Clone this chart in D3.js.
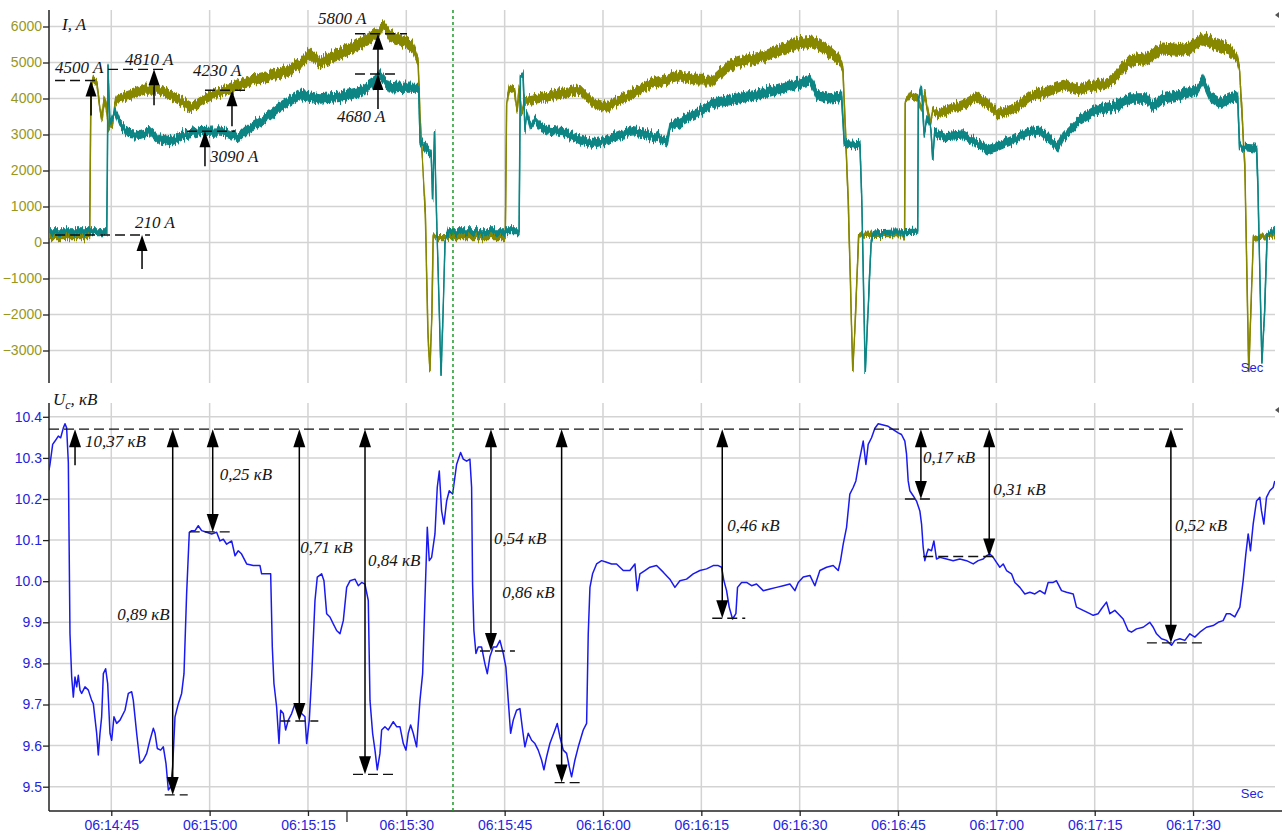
<!DOCTYPE html>
<html><head><meta charset="utf-8">
<script src="https://cdn.jsdelivr.net/npm/d3@7"></script>
<style>
html,body{margin:0;padding:0;background:#fff;}
svg{display:block;}
</style></head><body>
<svg id="chart" width="1282" height="838"></svg>
<script>
// ---- data: time is given in seconds after 06:14:00 ----
const timeTickLabels = ["06:14:45","06:15:00","06:15:15","06:15:30","06:15:45","06:16:00","06:16:15","06:16:30","06:16:45","06:17:00","06:17:15","06:17:30"];
const currentTicks = [-3000,-2000,-1000,0,1000,2000,3000,4000,5000,6000];
const voltageTicks = [9.5,9.6,9.7,9.8,9.9,10.0,10.1,10.2,10.3,10.4];

// current, phase 1 (olive): [s, A, spread of the trace]
const phaseA = [
[35.5,150,70],[41.7,150,70],[41.9,4300,40],[42.3,4500,80],[42.8,4400,80],[43.3,3700,60],[43.6,3400,60],[43.9,4000,60],[44.2,3800,60],[44.6,3200,60],[45.2,3300,60],[45.6,3900,80],[45.9,4000,100],[47.9,4100,120],[50.1,4250,120],[52.4,4240,120],[54.0,4100,120],[56.2,3870,120],[57.3,3750,120],[58.5,3900,120],[60.8,4150,120],[63.1,4260,130],[65.4,4460,130],[67.7,4570,130],[70.7,4680,140],[73.8,4950,140],[75.3,5250,140],[76.8,5000,140],[79.9,5250,150],[82.2,5450,150],[84.5,5680,150],[86.0,5900,150],[86.4,6050,100],[87.5,5750,150],[89.8,5580,150],[90.9,5450,150],[91.8,5050,100],[92.1,3500,0],[92.9,800,0],[93.3,-2500,0],[93.6,-3600,0],[93.9,-2000,0],[94.1,200,40],[94.7,150,70],
[105.1,150,70],[105.3,3800,40],[105.7,4300,80],[106.5,4200,80],[106.9,3700,60],[107.2,4250,80],[107.6,3600,60],[108.1,3950,100],[108.9,3960,120],[111.5,4050,120],[113.9,4140,120],[116.5,4240,120],[118.5,3870,120],[120.6,3770,120],[121.5,3870,120],[123.7,4050,120],[126.7,4375,130],[129.1,4510,130],[131.7,4650,130],[134.3,4510,130],[136.8,4510,130],[139.4,4930,140],[142.0,5070,140],[144.4,5160,140],[147.0,5350,150],[149.6,5530,150],[152.0,5580,150],[154.2,5350,150],[156.1,5070,130],[156.6,4800,80],[157.4,1200,0],[158.1,-3600,0],[158.4,-2500,0],[159.0,200,40],[159.5,220,70],
[166.0,200,70],[166.1,3900,40],[166.8,4100,80],[168.0,4000,80],[168.6,3700,60],[169.1,4100,80],[169.9,3300,50],[170.3,3700,60],[170.9,3590,100],[172.5,3680,120],[174.9,3820,120],[177.0,4050,120],[178.6,3870,120],[180.1,3590,120],[181.0,3590,120],[183.1,3770,120],[185.1,4050,120],[187.7,4190,130],[190.2,4375,130],[192.3,4240,130],[194.3,4330,130],[196.9,4420,130],[198.4,4650,140],[200.4,5070,140],[203.0,5120,150],[205.4,5390,150],[208.0,5350,150],[209.5,5390,150],[211.5,5670,150],[213.0,5530,150],[215.6,5350,150],[216.7,5120,100],[217.1,4800,60],[217.9,2100,0],[218.5,-3600,0],[218.8,-2000,0],[219.2,100,40],[219.9,150,70],[222.5,200,70]
];

// current, phase 2 (teal): [s, A, spread of the trace]
const phaseC = [
[35.5,300,80],[44.3,300,80],[44.4,2000,0],[44.5,4900,40],[44.8,3300,60],[45.2,3500,60],[45.6,3650,80],[46.3,3300,100],[47.6,3030,110],[49.4,3000,110],[50.9,3080,110],[52.4,2850,110],[54.0,2800,110],[56.2,2990,110],[58.5,3080,110],[61.6,3100,110],[63.1,3000,110],[64.6,2930,110],[66.2,3210,110],[68.4,3440,120],[70.7,3770,120],[73.8,4100,130],[76.8,4000,130],[79.9,4050,130],[82.9,4180,130],[85.2,4460,130],[86.0,4700,100],[87.5,4280,130],[89.0,4300,130],[91.9,4300,120],[92.1,2800,60],[92.9,2650,100],[93.8,2450,80],[94.0,1200,0],[94.3,3100,0],[94.5,1500,0],[95.3,-3700,0],[95.6,-2000,0],[95.9,0,0],[96.4,300,80],
[107.2,300,80],[107.4,4600,40],[107.8,4700,40],[108.1,3100,60],[108.4,3600,60],[108.9,3200,60],[109.6,3400,80],[110.4,3210,110],[111.5,3125,110],[113.9,3080,110],[116.5,2850,110],[118.5,2750,110],[120.6,2850,110],[122.6,2990,110],[124.6,3080,110],[126.7,2990,110],[128.7,2900,110],[129.8,2780,100],[130.2,3210,100],[131.7,3360,120],[134.3,3590,120],[136.8,3870,120],[139.4,3960,130],[142.0,4050,130],[144.4,4140,130],[147.0,4280,130],[149.6,4420,130],[151.6,4510,130],[152.6,4100,130],[154.6,4000,130],[156.4,4050,130],[156.8,2750,80],[159.2,2700,100],[159.5,1000,0],[160.0,-3650,0],[160.4,-2000,0],[160.9,0,0],[161.2,250,70],
[168.0,300,70],[168.1,4000,40],[168.6,4300,80],[169.0,3000,60],[169.4,3500,60],[170.0,3200,60],[170.3,2300,0],[170.6,3100,80],[170.9,3030,110],[172.5,2940,110],[174.9,2990,110],[176.4,2850,110],[178.6,2570,110],[180.1,2660,110],[182.5,2850,110],[185.1,3080,110],[186.6,3125,110],[188.2,2850,110],[189.4,2660,110],[190.2,2940,110],[192.7,3400,120],[195.3,3680,130],[197.8,3770,130],[200.4,4000,130],[203.0,4000,130],[203.9,3770,130],[205.4,4000,130],[208.0,4100,130],[210.6,4240,130],[211.5,4510,120],[212.6,4050,130],[214.1,3870,130],[215.6,4000,130],[216.8,4050,130],[217.1,2660,80],[219.7,2600,100],[219.9,1500,0],[220.5,-3360,0],[220.9,-2000,0],[221.3,200,60],[222.5,350,70]
];

// bus voltage: [s, kV]
const voltage = [
[35.5,10.27],[35.65,10.284],[36.06,10.333],[36.42,10.341],[36.92,10.353],[37.28,10.349],[37.69,10.373],[37.94,10.383],[38.19,10.373],[38.45,10.288],[38.70,9.872],[38.96,9.767],[39.21,9.718],[39.46,9.767],[39.72,9.743],[39.97,9.771],[40.23,9.735],[40.48,9.727],[40.99,9.743],[41.50,9.735],[42.01,9.710],[42.26,9.702],[42.77,9.630],[43.02,9.577],[43.28,9.630],[43.53,9.670],[43.79,9.775],[44.14,9.787],[44.45,9.751],[44.80,9.630],[45.06,9.613],[45.41,9.670],[45.82,9.654],[46.33,9.662],[47.09,9.686],[47.60,9.727],[48.11,9.731],[48.36,9.710],[48.87,9.630],[49.38,9.557],[49.89,9.565],[50.40,9.581],[50.90,9.613],[51.41,9.642],[51.67,9.630],[52.02,9.593],[52.53,9.589],[52.94,9.597],[53.34,9.557],[53.70,9.492],[54.06,9.500],[54.36,9.549],[54.72,9.670],[55.23,9.702],[55.73,9.727],[56.09,9.775],[56.49,9.969],[56.90,10.119],[57.26,10.123],[57.77,10.123],[58.27,10.135],[58.78,10.123],[59.55,10.119],[60.31,10.115],[61.07,10.119],[61.58,10.098],[62.09,10.102],[62.60,10.090],[63.36,10.098],[63.87,10.062],[64.37,10.074],[64.88,10.066],[65.65,10.042],[66.66,10.038],[67.68,10.038],[67.93,10.018],[68.70,10.018],[69.31,10.018],[69.56,9.840],[69.81,9.751],[70.22,9.694],[70.58,9.605],[70.83,9.686],[71.24,9.678],[71.59,9.638],[72.00,9.662],[72.51,9.678],[73.02,9.702],[73.52,9.686],[74.03,9.678],[74.54,9.670],[74.80,9.605],[75.20,9.662],[75.56,9.767],[76.07,9.953],[76.42,10.010],[77.08,10.018],[77.44,10.001],[77.85,9.921],[78.35,9.913],[78.86,9.896],[79.37,9.880],[79.88,9.872],[80.39,9.904],[80.90,9.985],[81.41,10.001],[82.17,10.005],[82.68,9.989],[83.19,9.997],[83.69,9.993],[84.20,9.953],[84.46,9.710],[84.86,9.630],[85.22,9.589],[85.57,9.541],[85.98,9.581],[86.24,9.638],[86.74,9.646],[87.25,9.638],[88.01,9.658],[88.52,9.646],[89.03,9.646],[89.54,9.605],[89.95,9.589],[90.30,9.630],[90.66,9.650],[91.06,9.630],[91.57,9.597],[92.08,9.710],[92.49,9.775],[92.84,9.953],[93.20,10.131],[93.50,10.050],[93.86,10.058],[94.37,10.115],[94.72,10.228],[95.03,10.268],[95.38,10.171],[95.74,10.139],[96.15,10.195],[96.55,10.220],[97.06,10.212],[97.67,10.284],[98.28,10.313],[98.69,10.297],[99.20,10.292],[99.70,10.297],[99.96,10.228],[100.11,9.993],[100.31,9.880],[100.62,9.824],[100.97,9.840],[101.48,9.840],[101.99,9.799],[102.35,9.775],[102.75,9.816],[103.26,9.840],[103.77,9.840],[104.28,9.856],[104.79,9.824],[105.19,9.791],[105.55,9.710],[105.91,9.630],[106.31,9.662],[106.82,9.686],[107.33,9.690],[107.74,9.638],[108.09,9.597],[108.60,9.630],[109.11,9.613],[109.62,9.605],[110.12,9.589],[110.63,9.565],[110.99,9.541],[111.40,9.573],[111.90,9.605],[112.67,9.638],[113.02,9.654],[113.43,9.621],[113.94,9.589],[114.45,9.581],[114.85,9.549],[115.21,9.524],[115.72,9.565],[116.23,9.597],[116.99,9.638],[117.50,9.654],[117.75,9.872],[118.01,9.985],[118.41,10.018],[119.02,10.042],[119.79,10.050],[120.55,10.046],[121.31,10.042],[122.07,10.042],[123.09,10.026],[124.10,10.026],[124.87,10.042],[125.22,9.977],[125.63,10.018],[126.39,10.026],[127.15,10.034],[128.17,10.038],[129.19,10.022],[130.20,10.005],[130.97,9.985],[131.73,10.001],[132.75,10.005],[133.76,10.018],[134.78,10.026],[135.80,10.030],[136.81,10.038],[137.58,10.038],[138.09,10.034],[138.44,10.001],[138.85,9.977],[139.25,9.937],[139.76,9.908],[140.27,9.921],[140.52,9.985],[141.14,9.997],[141.90,9.997],[142.66,9.989],[143.42,9.993],[144.44,9.977],[145.46,9.981],[146.47,9.985],[147.49,9.989],[148.51,9.993],[149.27,9.977],[149.78,9.997],[150.54,10.010],[151.56,10.014],[152.32,9.989],[153.08,10.026],[154.10,10.034],[155.11,10.038],[155.88,10.026],[156.23,10.050],[156.64,10.090],[157.15,10.131],[157.65,10.212],[158.16,10.228],[158.57,10.244],[159.08,10.292],[159.69,10.341],[160.10,10.284],[160.45,10.333],[160.96,10.349],[161.47,10.372],[161.98,10.383],[162.74,10.380],[163.50,10.377],[164.26,10.369],[165.03,10.361],[165.53,10.357],[166.04,10.341],[166.30,10.309],[166.55,10.244],[166.81,10.220],[167.31,10.208],[167.82,10.195],[168.33,10.171],[168.59,10.139],[168.84,10.082],[169.09,10.050],[169.35,10.066],[169.60,10.078],[170.11,10.074],[170.47,10.098],[170.87,10.054],[171.38,10.058],[172.40,10.054],[173.41,10.050],[174.43,10.054],[175.45,10.050],[176.47,10.042],[177.23,10.050],[177.99,10.054],[178.50,10.062],[179.01,10.066],[179.52,10.058],[180.02,10.046],[180.53,10.034],[181.04,10.042],[181.55,10.026],[182.31,10.018],[182.82,9.997],[183.58,9.985],[184.34,9.969],[185.11,9.973],[185.87,9.969],[186.63,9.977],[187.40,9.969],[187.90,9.997],[188.67,9.997],[189.17,10.001],[189.94,9.977],[190.70,9.973],[191.72,9.969],[192.22,9.937],[193.24,9.929],[194.26,9.921],[194.77,9.917],[195.53,9.921],[196.04,9.933],[196.80,9.949],[197.31,9.921],[198.07,9.929],[198.58,9.921],[199.34,9.908],[200.10,9.880],[200.61,9.876],[201.38,9.884],[202.39,9.888],[203.41,9.900],[203.92,9.888],[204.43,9.872],[205.19,9.860],[205.95,9.856],[206.72,9.844],[207.22,9.856],[207.99,9.860],[208.75,9.856],[209.51,9.872],[210.27,9.864],[211.04,9.876],[212.05,9.888],[213.07,9.892],[213.83,9.900],[214.59,9.904],[215.10,9.921],[215.61,9.921],[216.37,9.913],[217.14,9.937],[217.64,10.001],[218.05,10.066],[218.41,10.115],[218.76,10.074],[219.17,10.139],[219.68,10.195],[220.19,10.204],[220.44,10.171],[220.80,10.139],[221.20,10.204],[221.71,10.220],[222.22,10.228],[222.47,10.244]
];

// current readings marked on the upper trace
const currentMarkTimes  = [41.91, 51.52, 63.41, 59.29, 49.69, 85.68, 85.68];
const currentMarkValues = [4500, 4810, 4230, 3090, 210, 4680, 5800];
const currentMarkLabels = ["4500 A","4810 A","4230 A","3090 A","210 A","4680 A","5800 A"];

// voltage reference level and the dips measured from it
const voltageRef = 10.37;
const voltageRefLabel = "10,37 кВ";
const voltageRefTime = 39.47;
const voltageRefSpan = [35.5, 208.45];
const voltageDropTimes  = [54.37, 60.47, 73.68, 83.70, 102.91, 113.69, 138.19, 168.49, 178.91, 206.62];
const voltageDrops      = [0.89, 0.25, 0.71, 0.84, 0.54, 0.86, 0.46, 0.17, 0.31, 0.52];
const voltageDropLabels = ["0,89 кВ","0,25 кВ","0,71 кВ","0,84 кВ","0,54 кВ","0,86 кВ","0,46 кВ","0,17 кВ","0,31 кВ","0,52 кВ"];

// cursor positions (s)
const cursorTime = 97.12;
const markerTime = 80.95;

// ---- drawing ----
const svg = d3.select('#chart');
const day0 = new Date(2000,0,1,6,14,0).getTime();
const toTime = s => new Date(day0 + s*1000);
const parseTick = d3.timeParse("%H:%M:%S");
const tickDates = timeTickLabels.map(l => { const p = parseTick(l); return new Date(2000,0,1,p.getHours(),p.getMinutes(),p.getSeconds()); });

const X0 = 49, X1 = 1275;
const topP = {y0: 10, y1: 383};
const botP = {y0: 403, y1: 811};

const x  = d3.scaleTime().domain([toTime(35.5), toTime(222.5)]).range([X0, X1]);
const yI = d3.scaleLinear().domain([-3000, 6000]).range([350.5, 26.5]);
const yU = d3.scaleLinear().domain([9.5, 10.4]).range([786.7, 416.8]);

const GRID = '#d3d3d3';
const OLIVE = '#878700', TEAL = '#0b8585', BLUE = '#1a1af0';
const TICK_FONT = '"Liberation Sans", Arial, sans-serif';
const NOTE_FONT = '"Liberation Serif", "Times New Roman", serif';

const defs = svg.append('defs');
defs.append('clipPath').attr('id','clipTop').append('rect').attr('x',X0).attr('y',topP.y0).attr('width',X1-X0).attr('height',topP.y1-topP.y0);
defs.append('clipPath').attr('id','clipBot').append('rect').attr('x',X0).attr('y',botP.y0).attr('width',X1-X0).attr('height',botP.y1-botP.y0);

// ragged edge texture for the sampled current traces (vertical jitter only)
const jitter = defs.append('filter').attr('id','ragged')
  .attr('filterUnits','userSpaceOnUse').attr('x',0).attr('y',0).attr('width',1282).attr('height',400);
jitter.append('feTurbulence').attr('type','fractalNoise').attr('baseFrequency','0.55 0.02')
  .attr('numOctaves',2).attr('seed',4).attr('result','tex');
jitter.append('feColorMatrix').attr('in','tex').attr('type','matrix')
  .attr('values','1 0 0 0 0  0 0 0 0 0.5  0 0 0 0 0  0 0 0 0 1').attr('result','map');
jitter.append('feDisplacementMap').attr('in','SourceGraphic').attr('in2','map')
  .attr('scale',11).attr('xChannelSelector','G').attr('yChannelSelector','R');

// grids
function vGrid(p){
  svg.append('g').selectAll('line').data(tickDates).join('line')
    .attr('x1',d=>x(d)).attr('x2',d=>x(d)).attr('y1',p.y0).attr('y2',p.y1)
    .attr('stroke',GRID).attr('stroke-width',1.5);
}
vGrid(topP); vGrid(botP);
svg.append('g').selectAll('line').data(currentTicks).join('line')
  .attr('x1',X0).attr('x2',X1).attr('y1',d=>yI(d)).attr('y2',d=>yI(d))
  .attr('stroke',GRID).attr('stroke-width',1.5);
svg.append('g').selectAll('line').data(voltageTicks).join('line')
  .attr('x1',X0).attr('x2',X1).attr('y1',d=>yU(d)).attr('y2',d=>yU(d))
  .attr('stroke',GRID).attr('stroke-width',1.5);

// left axes
const axI = svg.append('g').attr('transform',`translate(${X0},0)`)
  .call(d3.axisLeft(yI).tickValues(currentTicks).tickFormat(d3.format('d')).tickSize(6).tickPadding(1));
const axU = svg.append('g').attr('transform',`translate(${X0},0)`)
  .call(d3.axisLeft(yU).tickValues(voltageTicks).tickFormat(d3.format('.1f')).tickSize(6).tickPadding(1));
[[axI,'#97971f'],[axU,'#2424e0']].forEach(([g,c])=>{
  g.select('.domain').remove();
  g.selectAll('.tick line').attr('stroke','#222').attr('stroke-width',1.3);
  g.selectAll('.tick text').attr('fill',c).style('font-family',TICK_FONT).style('font-size','14px');
});
svg.append('line').attr('x1',X0).attr('x2',X0).attr('y1',topP.y0).attr('y2',topP.y1).attr('stroke','#222').attr('stroke-width',1.5);
svg.append('line').attr('x1',X0).attr('x2',X0).attr('y1',botP.y0).attr('y2',botP.y1).attr('stroke','#222').attr('stroke-width',1.5);

// time axis
const axT = svg.append('g').attr('transform',`translate(0,${botP.y1})`)
  .call(d3.axisBottom(x).tickValues(tickDates).tickFormat(d3.timeFormat('%H:%M:%S')).tickSize(5).tickPadding(4));
axT.select('.domain').remove();
axT.selectAll('.tick line').attr('stroke','#222').attr('stroke-width',1.3);
axT.selectAll('.tick text').attr('fill','#2424e0').style('font-family',TICK_FONT).style('font-size','14px');
svg.append('line').attr('x1',X0).attr('x2',1282).attr('y1',botP.y1).attr('y2',botP.y1).attr('stroke','#222').attr('stroke-width',1.5);
svg.append('line').attr('x1',x(toTime(markerTime))).attr('x2',x(toTime(markerTime)))
  .attr('y1',botP.y1).attr('y2',botP.y1+11).attr('stroke','#333').attr('stroke-width',1.3);

// current traces
const gTop = svg.append('g').attr('clip-path','url(#clipTop)').append('g').attr('filter','url(#ragged)');
function currentTrace(data, color){
  const band = d3.area().x(d=>x(toTime(d[0]))).y0(d=>yI(d[1]-d[2])).y1(d=>yI(d[1]+d[2]));
  const line = d3.line().x(d=>x(toTime(d[0]))).y(d=>yI(d[1]));
  gTop.append('path').datum(data).attr('d',band).attr('fill',color).attr('stroke',color).attr('stroke-width',1.2);
  gTop.append('path').datum(data).attr('d',line).attr('fill','none').attr('stroke',color).attr('stroke-width',1.5);
}
currentTrace(phaseA, OLIVE);
currentTrace(phaseC, TEAL);

// voltage trace
const gBot = svg.append('g').attr('clip-path','url(#clipBot)');
gBot.append('path').datum(voltage)
  .attr('d', d3.line().x(d=>x(toTime(d[0]))).y(d=>yU(d[1])))
  .attr('fill','none').attr('stroke',BLUE).attr('stroke-width',1.5).attr('stroke-linejoin','round');

// cursor
svg.append('line').attr('x1',x(toTime(cursorTime))).attr('x2',x(toTime(cursorTime)))
  .attr('y1',topP.y0).attr('y2',botP.y1).attr('stroke','#1f9a2a').attr('stroke-width',1.5).attr('stroke-dasharray','3,3');

// unit captions
svg.append('text').attr('x',1252).attr('y',372).attr('text-anchor','middle').attr('fill','#2424e0')
  .style('font-family',TICK_FONT).style('font-size','13px').text('Sec');
svg.append('text').attr('x',1252).attr('y',798).attr('text-anchor','middle').attr('fill','#2424e0')
  .style('font-family',TICK_FONT).style('font-size','13px').text('Sec');
[[1278,15],[1278,410]].forEach(([px,py])=>{
  svg.append('path').attr('d',`M${px-3},${py} L${px+1},${py-3} L${px+1},${py+3} Z`).attr('fill','#555');
});

// annotations
const ann = svg.append('g');
function note(px, py, txt, anchor){
  return ann.append('text').attr('x',px).attr('y',py).attr('text-anchor',anchor||'start')
    .attr('fill','#151515').style('font-family',NOTE_FONT).style('font-style','italic').style('font-size','17px').text(txt);
}
function dash(xa, xb, py){
  ann.append('line').attr('x1',xa).attr('x2',xb).attr('y1',py).attr('y2',py)
    .attr('stroke','#111').attr('stroke-width',1.4).attr('stroke-dasharray','10,5');
}
function head(px, py, dir, w, h){
  // dir = -1: points up, +1: points down
  ann.append('path').attr('d',`M${px-w/2},${py-dir*h} L${px+w/2},${py-dir*h} L${px},${py} Z`).attr('fill','#000');
}
function shaft(px, ya, yb){
  ann.append('line').attr('x1',px).attr('x2',px).attr('y1',ya).attr('y2',yb).attr('stroke','#000').attr('stroke-width',1.5);
}

// axis titles
note(62, 30, 'I, A');
const uc = ann.append('text').attr('x',53).attr('y',405).attr('fill','#151515')
  .style('font-family',NOTE_FONT).style('font-style','italic').style('font-size','17px');
uc.append('tspan').text('U');
uc.append('tspan').attr('dy',4).style('font-size','12px').text('c');
uc.append('tspan').attr('dy',-4).text(', кВ');

// current marks
const curLayout = [
  {tx:-36, ty:-8,  d0:-36, d1:6,  tail:35},
  {tx:-29, ty:-4,  d0:-46, d1:11, tail:36},
  {tx:-39, ty:-14, d0:-27, d1:15, tail:36},
  {tx:5,   ty:31,  d0:-18, d1:30, tail:35},
  {tx:-7,  ty:-7,  d0:-87, d1:8,  tail:34},
  {tx:-41, ty:48,  d0:-23, d1:19, tail:35},
  {tx:-60, ty:-10, d0:-23, d1:29, tail:41}
];
currentMarkValues.forEach((v,i)=>{
  const L = curLayout[i];
  const px = x(toTime(currentMarkTimes[i])), py = yI(v);
  dash(px+L.d0, px+L.d1, py);
  shaft(px, py+L.tail, py+8);
  head(px, py, -1, 11, 16);
  note(px+L.tx, py+L.ty, currentMarkLabels[i]);
});

// voltage reference and dips
const yRef = yU(voltageRef);
dash(x(toTime(voltageRefSpan[0])), x(toTime(voltageRefSpan[1])), yRef);
{
  const px = x(toTime(voltageRefTime));
  shaft(px, yRef+36, yRef+8);
  head(px, yRef, -1, 12, 18);
  note(px+10, yRef+18, voltageRefLabel);
}
const dropLayout = [
  {tx:-3, ty:620, anchor:'end',   d0:-8,  d1:15},
  {tx:7,  ty:480, anchor:'start', d0:-23, d1:20},
  {tx:1,  ty:553, anchor:'start', d0:-19, d1:19},
  {tx:3,  ty:566, anchor:'start', d0:-12, d1:30},
  {tx:3,  ty:544, anchor:'start', d0:-11, d1:24},
  {tx:-7, ty:598, anchor:'end',   d0:-7,  d1:20},
  {tx:5,  ty:531, anchor:'start', d0:-10, d1:23},
  {tx:2,  ty:463, anchor:'start', d0:-16, d1:11},
  {tx:4,  ty:495, anchor:'start', d0:-66, d1:4},
  {tx:4,  ty:531, anchor:'start', d0:-24, d1:34}
];
voltageDrops.forEach((dv,i)=>{
  const L = dropLayout[i];
  const px = x(toTime(voltageDropTimes[i]));
  const yLow = yU(voltageRef - dv);
  dash(px+L.d0, px+L.d1, yLow);
  shaft(px, yRef+10, yLow-10);
  head(px, yRef, -1, 12, 18);
  head(px, yLow, 1, 12, 18);
  note(px+L.tx, L.ty, voltageDropLabels[i], L.anchor);
});
</script>
</body></html>
